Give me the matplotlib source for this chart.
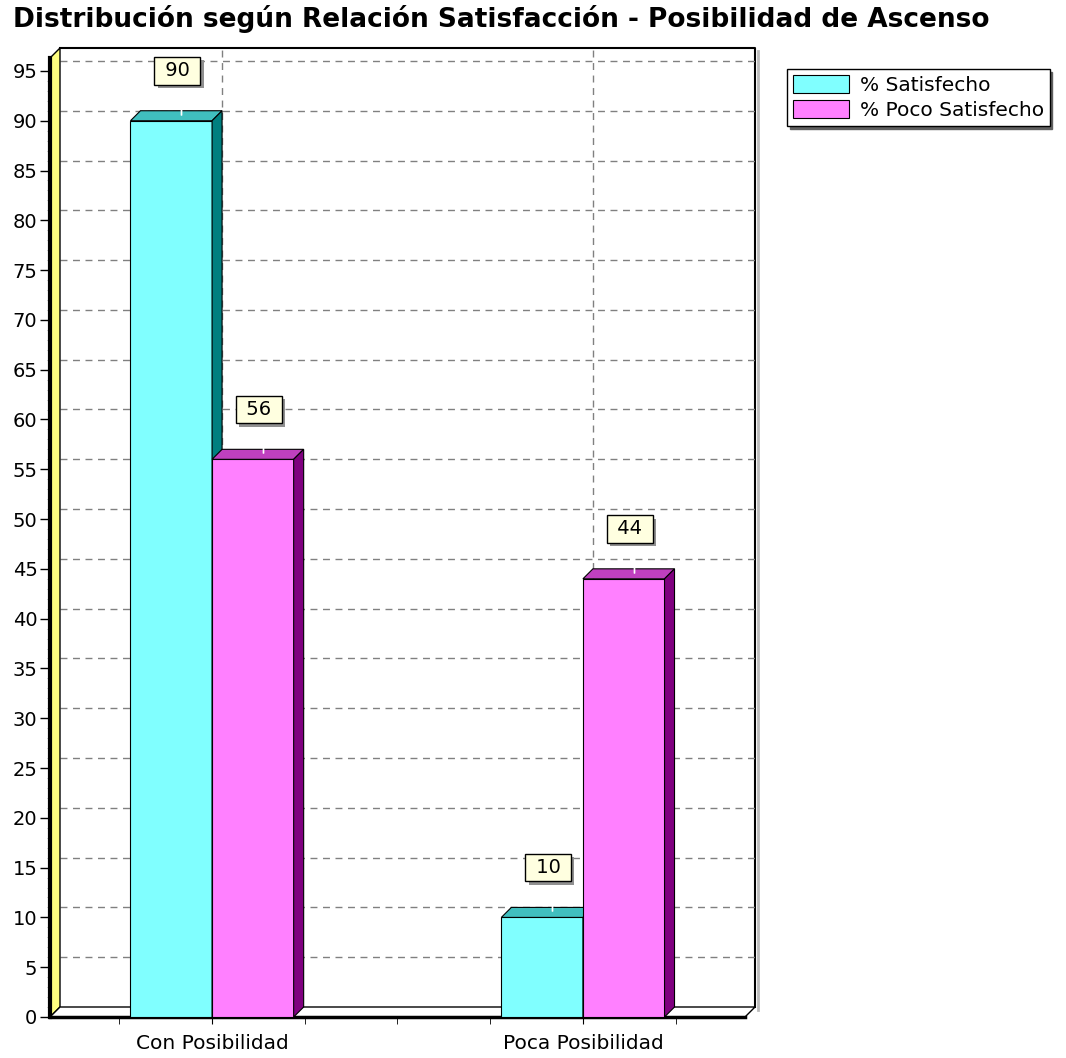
import matplotlib
matplotlib.use("Agg")
import matplotlib.pyplot as plt
from matplotlib.patches import Polygon, Rectangle
from matplotlib.transforms import offset_copy
import matplotlib.patheffects as pe
import numpy as np

title = "Distribución según Relación Satisfacción - Posibilidad de Ascenso"
categories = ["Con Posibilidad", "Poca Posibilidad"]
series_names = ["% Satisfecho", "% Poco Satisfecho"]
satisfecho = [90, 10]
poco_satisfecho = [56, 44]
y_ticks = list(range(0, 100, 5))

face_colors = ["#80FFFF", "#FF80FF"]
top_colors = ["#40BFBF", "#BF40BF"]
side_colors = ["#007F7F", "#7F007F"]

W, H = 1066, 1058
plt.rcParams['font.family'] = ['DejaVu Sans']
fig = plt.figure(figsize=(W / 100, H / 100), dpi=100)

L, R, B, T = 50, 745, 1017, 58
ax = fig.add_axes([L / W, 1 - B / H, (R - L) / W, (B - T) / H])
ax.set_xlim(-0.437, 1.437)
ax.set_ylim(0, 96.3)
for s in ax.spines.values():
    s.set_visible(False)
ax.set_facecolor("none")

D = 10  # depth in pixels
back = offset_copy(ax.transData, fig=fig, x=D, y=D, units='dots')
x0, x1 = ax.get_xlim()
y0, y1 = ax.get_ylim()

# back wall
ax.add_patch(Rectangle((x0, y0), x1 - x0, y1 - y0, transform=back, facecolor="white",
                       edgecolor="none", zorder=0, clip_on=False))
ax.plot([x0, x1, x1], [y1, y1, y0], transform=back, color="black", lw=1.5, zorder=1, clip_on=False)
shadow = offset_copy(ax.transData, fig=fig, x=D + 3, y=D - 3, units='dots')
ax.plot([x1, x1], [y1, y0], transform=shadow, color="#bbbbbb", lw=2, zorder=0.5, clip_on=False)

# gridlines on back wall
for yv in y_ticks[1:]:
    ax.plot([x0, x1], [yv, yv], transform=back, color="#808080", lw=1, ls=(0, (5, 4)),
            zorder=1, clip_on=False)
for i in range(len(categories)):
    ax.plot([i, i], [y0, y1], transform=back, color="#808080", lw=1, ls=(0, (5, 4)),
            zorder=1, clip_on=False)

tr = ax.transData
inv = ax.transData.inverted()
def pix(x, y):
    return tr.transform((x, y))
def from_pix(px, py):
    return inv.transform((px, py))

# left yellow wall
p_bl = pix(x0, y0); p_tl = pix(x0, y1)
wall = [from_pix(*p_bl), from_pix(p_bl[0] + D, p_bl[1] + D),
        from_pix(p_tl[0] + D, p_tl[1] + D), from_pix(*p_tl)]
ax.add_patch(Polygon(wall, closed=True, facecolor="#FFFF80", edgecolor="black", lw=1,
                     zorder=1.5, clip_on=False))
ax.plot([x0, x0], [y0, y1], color="black", lw=3, zorder=2, clip_on=False)

# floor
p_br = pix(x1, y0)
floor = [from_pix(*p_bl), from_pix(*p_br), from_pix(p_br[0] + D, p_br[1] + D),
         from_pix(p_bl[0] + D, p_bl[1] + D)]
ax.add_patch(Polygon(floor, closed=True, facecolor="white", edgecolor="black", lw=1,
                     zorder=1.5, clip_on=False))
ax.plot([x0, x1], [y0, y0], color="black", lw=2.5, zorder=2, clip_on=False)

# bars
bw = 0.22
xs = np.arange(len(categories))
lab_tr = offset_copy(ax.transData, fig=fig, x=D / 2 + 1, y=D + 40, units='dots')
for k, vals in enumerate([satisfecho, poco_satisfecho]):
    offs = (k - 0.5) * bw
    bars = ax.bar(xs + offs, vals, width=bw, color=face_colors[k], edgecolor="black",
                  lw=0.8, zorder=3 + k, label=series_names[k])
    for b, v in zip(bars, vals):
        xl, xr = b.get_x(), b.get_x() + b.get_width()
        a = pix(xl, v); c = pix(xr, v); d0 = pix(xr, 0)
        top = [from_pix(*a), from_pix(*c), from_pix(c[0] + D, c[1] + D), from_pix(a[0] + D, a[1] + D)]
        side = [from_pix(*d0), from_pix(*c), from_pix(c[0] + D, c[1] + D), from_pix(d0[0] + D, d0[1] + D)]
        ax.add_patch(Polygon(top, closed=True, facecolor=top_colors[k], edgecolor="black",
                             lw=0.8, zorder=3 + k, clip_on=False))
        ax.add_patch(Polygon(side, closed=True, facecolor=side_colors[k], edgecolor="black",
                             lw=0.8, zorder=3 + k, clip_on=False))
        cx = (xl + xr) / 2
        t = ax.text(cx, v, f" {v} ", transform=lab_tr, ha="center", va="center", fontsize=14,
                    color="black", zorder=10,
                    bbox=dict(boxstyle="square,pad=0.22", fc="#FFFFE0", ec="black", lw=1))
        t.get_bbox_patch().set_path_effects([
            pe.SimplePatchShadow(offset=(2.5, -2.5), shadow_rgbFace="#909090", alpha=1),
            pe.Normal()])
        ax.plot([cx, cx], [v, v], transform=back, marker="|", ms=6, color="white", zorder=6)

# axes ticks
ax.set_yticks(y_ticks)
ax.set_yticks(np.arange(0, 96, 1), minor=True)
ax.tick_params(axis="y", which="major", length=7, width=1, labelsize=14, pad=2)
ax.tick_params(axis="y", which="minor", length=2.5, width=0.5, color="#888888")
ax.set_xticks(xs)
ax.set_xticklabels(categories)
ax.set_xticks(np.arange(-0.25, 1.5, 0.25), minor=True)
ax.tick_params(axis="x", which="major", length=5, labelsize=14.5, pad=7)
ax.tick_params(axis="x", which="minor", length=5)

fig.text(13 / W, 1 - 19 / H, title, fontsize=19, fontweight="heavy",
         family="DejaVu Sans", ha="left", va="center")

leg = fig.legend(loc="upper left", bbox_to_anchor=(787 / W, 1 - 69 / H), fontsize=14.5,
                 frameon=True, fancybox=False, shadow={"color": "#606060", "alpha": 1},
                 edgecolor="black",
                 handlelength=2.8, handleheight=1.0, handletextpad=0.5,
                 borderpad=0.3, labelspacing=0.25, borderaxespad=0)
leg.get_frame().set_linewidth(1)

fig.savefig("out.png", dpi=100)
